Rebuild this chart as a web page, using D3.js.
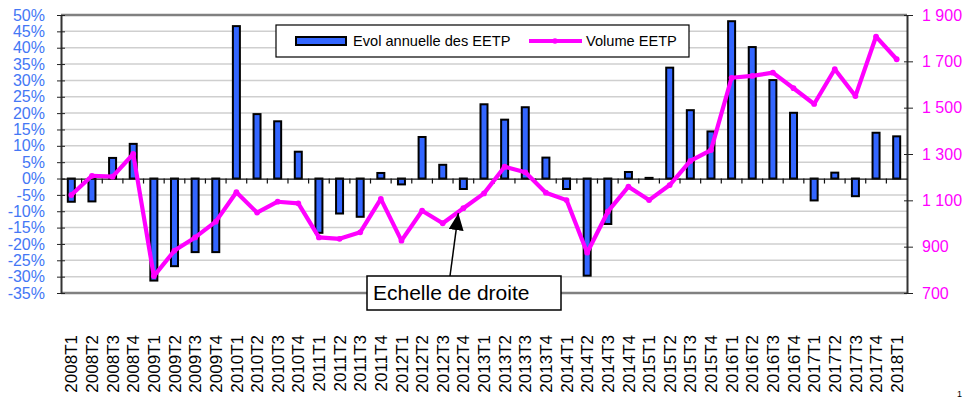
<!DOCTYPE html>
<html>
<head>
<meta charset="utf-8">
<script src="https://cdn.jsdelivr.net/npm/d3@7"></script>
<style>
  body { margin: 0; background: #fff; }
  svg { display: block; font-family: Arial, "Liberation Sans", sans-serif; }
  .grid line { stroke: #cfcfcf; stroke-width: 1.5; }
  .bar { fill: #3366ff; stroke: #000; stroke-width: 2; }
  .volLine { fill: none; stroke: #ff00ff; stroke-width: 4.2; stroke-linejoin: round; }
</style>
</head>
<body>
<div class="container"></div>
<script>
const WIDTH = 966;
const HEIGHT = 400;
const LEFT = 61;
const RIGHT = 907;
const TOP = 15;
const BOTTOM = 293;

// trimestres
var quarters = [
  '2008T1','2008T2','2008T3','2008T4',
  '2009T1','2009T2','2009T3','2009T4',
  '2010T1','2010T2','2010T3','2010T4',
  '2011T1','2011T2','2011T3','2011T4',
  '2012T1','2012T2','2012T3','2012T4',
  '2013T1','2013T2','2013T3','2013T4',
  '2014T1','2014T2','2014T3','2014T4',
  '2015T1','2015T2','2015T3','2015T4',
  '2016T1','2016T2','2016T3','2016T4',
  '2017T1','2017T2','2017T3','2017T4',
  '2018T1'
];

// evolution annuelle des EETP (%), echelle de gauche
var evolEETP = [
  -7.1, -7.0, 6.3, 10.6,
  -31.2, -26.8, -22.5, -22.5,
  46.6, 19.7, 17.5, 8.2,
  -16.6, -10.7, -11.7, 1.7,
  -1.8, 12.7, 4.2, -3.2,
  22.7, 18.0, 21.8, 6.4,
  -3.2, -29.7, -13.9, 2.0,
  0.2, 33.9, 20.9, 14.4,
  48.1, 40.2, 30.1, 20.1,
  -6.7, 1.8, -5.4, 14.0,
  12.9
];

// volume EETP, echelle de droite
var volumeEETP = [
  1123, 1206, 1202, 1300,
  773, 883, 940, 1008,
  1135, 1047, 1094, 1087,
  940, 934, 962, 1106,
  926, 1055, 1001, 1066,
  1130, 1245, 1221, 1133,
  1101, 874, 1051, 1159,
  1101, 1166, 1270, 1317,
  1629, 1637, 1651, 1584,
  1516, 1666, 1550, 1807,
  1709
];

var leftTicks = [-35, -30, -25, -20, -15, -10, -5, 0, 5, 10, 15, 20, 25, 30, 35, 40, 45, 50];
var rightTicks = [700, 900, 1100, 1300, 1500, 1700, 1900];

var seriesNames = ['Evol annuelle des EETP', 'Volume EETP'];
var noteText = 'Echelle de droite';
var noteQuarter = '2012T4';
var pageNumber = '1';

var translate = function (x, y) {
  return 'translate(' + x + ',' + y + ')';
};

var fmtRight = function (v) {
  var s = String(v);
  return s.length > 3 ? s.slice(0, s.length - 3) + ' ' + s.slice(-3) : s;
};

var draw = function () {
  var svg = d3.select('.container').append('svg')
    .attr('width', WIDTH)
    .attr('height', HEIGHT);

  var x = d3.scaleBand().domain(quarters).range([LEFT, RIGHT]);
  var yL = d3.scaleLinear().domain([-35, 50]).range([BOTTOM, TOP]);
  var yR = d3.scaleLinear().domain([700, 1900]).range([BOTTOM, TOP]);

  // gridlines
  svg.append('g').attr('class', 'grid')
    .selectAll('line')
    .data(leftTicks.filter(function (t) { return t !== 0 && t !== 50 && t !== -35; }))
    .enter().append('line')
    .attr('x1', LEFT).attr('x2', RIGHT)
    .attr('y1', function (d) { return yL(d); })
    .attr('y2', function (d) { return yL(d); });

  // frame top and bottom
  svg.append('line').attr('x1', LEFT).attr('x2', RIGHT).attr('y1', TOP).attr('y2', TOP)
    .attr('stroke', '#808080').attr('stroke-width', 2.5);
  svg.append('line').attr('x1', LEFT).attr('x2', RIGHT).attr('y1', BOTTOM).attr('y2', BOTTOM)
    .attr('stroke', '#808080').attr('stroke-width', 2.5);

  // left axis
  var leftAxis = d3.axisLeft(yL).tickValues(leftTicks)
    .tickSizeInner(4).tickSizeOuter(0).tickPadding(12)
    .tickFormat(function (d) { return d + '%'; });
  var gl = svg.append('g').attr('transform', translate(LEFT, 0)).call(leftAxis);
  gl.select('.domain').attr('stroke', '#333').attr('stroke-width', 2);
  gl.selectAll('.tick line').attr('stroke', '#222').attr('x2', 4).attr('x1', -4);
  gl.selectAll('.tick text')
    .attr('fill', '#4477f5')
    .attr('font-size', 16)
    .attr('font-family', 'Arial, "Liberation Sans", sans-serif');

  // right axis
  var rightAxis = d3.axisRight(yR).tickValues(rightTicks)
    .tickSizeInner(5).tickSizeOuter(0).tickPadding(10)
    .tickFormat(fmtRight);
  var gr = svg.append('g').attr('transform', translate(RIGHT, 0)).call(rightAxis);
  gr.select('.domain').attr('stroke', '#333').attr('stroke-width', 2);
  gr.selectAll('.tick line').attr('stroke', '#222').attr('x1', -3).attr('x2', 6);
  gr.selectAll('.tick text')
    .attr('fill', '#ff00ff')
    .attr('font-size', 16)
    .attr('font-family', 'Arial, "Liberation Sans", sans-serif');

  // bars
  var bw = 7;
  svg.append('g').selectAll('rect')
    .data(evolEETP)
    .enter().append('rect')
    .attr('class', 'bar')
    .attr('x', function (d, i) { return x(quarters[i]) + x.bandwidth() / 2 - bw / 2; })
    .attr('width', bw)
    .attr('y', function (d) { return yL(Math.max(0, d)); })
    .attr('height', function (d) { return Math.max(1, Math.abs(yL(d) - yL(0))); });

  // zero axis with category ticks
  var xAxis = d3.axisBottom(x).tickSize(0).tickFormat('');
  var gx = svg.append('g').attr('transform', translate(0, yL(0))).call(xAxis);
  gx.select('.domain').attr('stroke', '#111').attr('stroke-width', 1.2);
  svg.append('g').selectAll('line')
    .data(quarters.slice(1))
    .enter().append('line')
    .attr('x1', function (d) { return x(d); })
    .attr('x2', function (d) { return x(d); })
    .attr('y1', yL(0)).attr('y2', yL(0) + 5)
    .attr('stroke', '#111').attr('stroke-width', 1.2);

  // volume line
  var line = d3.line()
    .x(function (d, i) { return x(quarters[i]) + x.bandwidth() / 2; })
    .y(function (d) { return yR(d); });
  svg.append('path').attr('class', 'volLine').attr('d', line(volumeEETP));
  svg.append('g').selectAll('circle')
    .data(volumeEETP)
    .enter().append('circle')
    .attr('r', 2.9)
    .attr('fill', '#ff00ff')
    .attr('cx', function (d, i) { return x(quarters[i]) + x.bandwidth() / 2; })
    .attr('cy', function (d) { return yR(d); });

  // x labels
  svg.append('g').selectAll('text')
    .data(quarters)
    .enter().append('text')
    .attr('transform', function (d) {
      return translate(x(d) + x.bandwidth() / 2, 335) + ' rotate(-90)';
    })
    .attr('text-anchor', 'end')
    .attr('dy', '0.36em')
    .attr('font-size', 17)
    .attr('fill', '#000')
    .text(function (d) { return d; });

  // legend
  var lg = svg.append('g');
  lg.append('rect').attr('x', 276).attr('y', 25).attr('width', 413).attr('height', 32)
    .attr('fill', '#fff').attr('stroke', '#000').attr('stroke-width', 1.2);
  lg.append('rect').attr('x', 296).attr('y', 37).attr('width', 50).attr('height', 8)
    .attr('class', 'bar');
  lg.append('text').attr('x', 353).attr('y', 46).attr('font-size', 14.6)
    .text(seriesNames[0]);
  lg.append('line').attr('x1', 529).attr('x2', 582).attr('y1', 41).attr('y2', 41)
    .attr('stroke', '#ff00ff').attr('stroke-width', 4);
  lg.append('circle').attr('cx', 555).attr('cy', 41).attr('r', 2.8).attr('fill', '#ff00ff');
  lg.append('text').attr('x', 586).attr('y', 46).attr('font-size', 14.6)
    .text(seriesNames[1]);

  // annotation
  var tipX = x(noteQuarter) + x.bandwidth() / 2 - 5;
  var tipY = yR(volumeEETP[quarters.indexOf(noteQuarter)]) + 5;
  svg.append('defs').append('marker')
    .attr('id', 'arrow').attr('viewBox', '0 0 10 10')
    .attr('refX', 10).attr('refY', 5)
    .attr('markerWidth', 17).attr('markerHeight', 15)
    .attr('markerUnits', 'userSpaceOnUse')
    .attr('orient', 'auto')
    .attr('preserveAspectRatio', 'none')
    .append('path').attr('d', 'M0,0 L10,5 L0,10 z').attr('fill', '#000');
  svg.append('line')
    .attr('x1', 450).attr('y1', 276)
    .attr('x2', tipX).attr('y2', tipY)
    .attr('stroke', '#000').attr('stroke-width', 1.5)
    .attr('marker-end', 'url(#arrow)');
  svg.append('rect').attr('x', 367).attr('y', 276).attr('width', 194).attr('height', 34)
    .attr('fill', '#fff').attr('stroke', '#000').attr('stroke-width', 1.5);
  svg.append('text').attr('x', 373).attr('y', 300).attr('font-size', 21)
    .text(noteText);

  // page number in the corner
  svg.append('text').attr('x', 957).attr('y', 397).attr('font-size', 9)
    .attr('fill', '#000').text(pageNumber);
};

window.onload = draw;
</script>
</body>
</html>
